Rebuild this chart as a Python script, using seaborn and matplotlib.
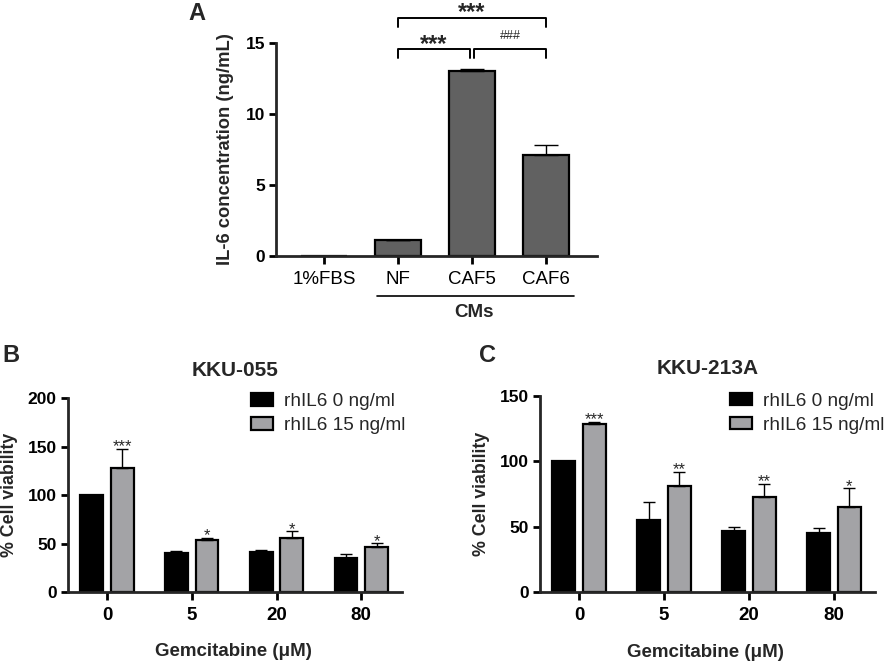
import matplotlib
matplotlib.use("Agg")
import matplotlib.pyplot as plt
import matplotlib.transforms as mtransforms
import numpy as np
import pandas as pd
import seaborn as sns

# Panel A: IL-6 in conditioned media
il6_groups = ["1%FBS", "NF", "CAF5", "CAF6"]
il6_mean = [0.0, 1.1, 13.05, 7.1]
il6_err = [0.0, 0.05, 0.15, 0.7]

# Panels B and C: cell viability
doses = ["0", "5", "20", "80"]
series = ["rhIL6 0 ng/ml", "rhIL6 15 ng/ml"]

kku055_ctrl = [100, 40.2, 41.2, 34.7]
kku055_ctrl_err = [0, 2.4, 1.7, 4.0]
kku055_il6 = [127.5, 53.3, 56.0, 46.7]
kku055_il6_err = [20.0, 2.4, 6.5, 3.5]
kku055_marks = ["***", "*", "*", "*"]

kku213_ctrl = [100, 55.1, 46.7, 45.2]
kku213_ctrl_err = [0, 14.0, 2.8, 3.8]
kku213_il6 = [128.8, 81.1, 72.7, 65.3]
kku213_il6_err = [1.5, 11.0, 10.2, 14.0]
kku213_marks = ["***", "**", "**", "*"]

sns.set_style("ticks")
plt.rcParams["font.family"] = ["Liberation Sans", "DejaVu Sans"]
plt.rcParams["axes.linewidth"] = 2.0
plt.rcParams["xtick.major.width"] = 2.0
plt.rcParams["ytick.major.width"] = 2.0
plt.rcParams["xtick.major.size"] = 5.5
plt.rcParams["ytick.major.size"] = 5.0

fig = plt.figure(figsize=(8.86, 6.62), dpi=100)


def style_axis(ax, ymax, yticks):
    sns.despine(ax=ax)
    ax.set_ylim(0, ymax)
    ax.set_yticks(yticks)
    ax.tick_params(axis="y", labelsize=12.5, pad=3, colors="black")
    ax.tick_params(axis="x", labelsize=13.5, pad=5, colors="black")
    for lab in ax.get_yticklabels():
        lab.set_fontweight("bold")


# ---------------- Panel A ----------------
axA = fig.add_axes([0.3115, 0.6133, 0.3623, 0.3218])
dfA = pd.DataFrame({"group": il6_groups, "conc": il6_mean})
sns.barplot(data=dfA, x="group", y="conc", color="#616161", width=0.63,
            edgecolor="black", linewidth=1.6, errorbar=None, saturation=1, ax=axA)
xa = np.arange(len(il6_groups))
axA.errorbar(xa[1:], il6_mean[1:], yerr=[np.zeros(3), il6_err[1:]], fmt="none",
             ecolor="black", elinewidth=1.0, capsize=8.5, capthick=1.0)
style_axis(axA, 15, [0, 5, 10, 15])
axA.set_xlim(-0.65, 3.69)
axA.set_xlabel("")
axA.set_ylabel("IL-6 concentration (ng/mL)", fontsize=13.2, fontweight="bold")
axA.yaxis.set_label_coords(-0.131, 0.5)
for lab in axA.get_xticklabels():
    lab.set_fontweight("normal")


# significance brackets
def bracket(ax, x1, x2, y, h, text, size, dy, weight="bold"):
    ax.plot([x1, x1, x2, x2], [y - h, y, y, y - h], color="black", lw=1.4,
            clip_on=False)
    ax.text((x1 + x2) / 2, y + dy, text, ha="center", va="baseline",
            fontsize=size, fontweight=weight)


bracket(axA, 1, 1.97, 14.58, 0.64, "***", 17, -0.12)
bracket(axA, 2.03, 3, 14.58, 0.64, "###", 9, 0.7, "normal")
bracket(axA, 1, 3, 16.76, 0.63, "***", 17, -0.08)

trA = mtransforms.blended_transform_factory(axA.transData, axA.transAxes)
axA.plot([0.72, 3.38], [-0.188, -0.188], color="black", lw=1.2,
         transform=trA, clip_on=False)
axA.text(2.03, -0.263, "CMs", transform=trA, ha="center", va="center",
         fontsize=13.5, fontweight="bold")
fig.text(197 / 886, 1 - 14 / 662, "A", ha="center", va="center",
         fontsize=17, fontweight="bold")


# ---------------- Panels B and C ----------------
def viability_panel(rect, title, ctrl, ctrl_err, il6, il6_err, marks,
                    ymax, yticks, ylab_x, mark_off, legend_xy):
    ax = fig.add_axes(rect)
    df = pd.DataFrame({
        "dose": doses * 2,
        "viability": ctrl + il6,
        "group": [series[0]] * 4 + [series[1]] * 4,
    })
    sns.barplot(data=df, x="dose", y="viability", hue="group", order=doses,
                hue_order=series, palette=["black", "#a3a3a6"], width=0.72,
                gap=0.25, edgecolor="black", linewidth=1.6, errorbar=None,
                saturation=1, ax=ax)
    bar_sets = list(ax.containers)
    errs = [ctrl_err, il6_err]
    for k, cont in enumerate(bar_sets):
        xs = np.array([b.get_x() + b.get_width() / 2 for b in cont])
        ys = np.array([b.get_height() for b in cont])
        e = np.array(errs[k])
        keep = e > 0
        ax.errorbar(xs[keep], ys[keep],
                    yerr=[np.zeros(keep.sum()), e[keep]], fmt="none",
                    ecolor="black", elinewidth=1.0, capsize=4.3, capthick=1.0)
        if k == 1:
            for x, y, ee, m in zip(xs, ys, e, marks):
                ax.text(x, y + ee + mark_off, m, ha="center", va="baseline",
                        fontsize=12)
    style_axis(ax, ymax, yticks)
    ax.set_xlim(-0.46, 3.48)
    for lab in ax.get_xticklabels():
        lab.set_fontweight("bold")
    ax.set_ylabel("% Cell viability", fontsize=12.8, fontweight="bold")
    ax.yaxis.set_label_coords(ylab_x, 0.5)
    ax.set_xlabel("Gemcitabine (\u03bcM)", fontsize=13.5, fontweight="bold")
    ax.xaxis.set_label_coords(0.495, -0.265)
    ax.set_title(title, fontsize=15, fontweight="bold", pad=16)
    handles, labels = ax.get_legend_handles_labels()
    ax.legend(handles, labels, loc="upper left", bbox_to_anchor=legend_xy,
              bbox_transform=fig.transFigure, frameon=False, fontsize=13.7,
              handlelength=1.15, handleheight=0.63, handletextpad=0.6,
              labelspacing=0.37, borderpad=0, borderaxespad=0)
    return ax


viability_panel([0.0767, 0.1057, 0.377, 0.293], "KKU-055",
                kku055_ctrl, kku055_ctrl_err, kku055_il6, kku055_il6_err,
                kku055_marks, 200, [0, 50, 100, 150, 200], -0.151, -2.5,
                (0.283, 0.406))
viability_panel([0.6095, 0.1057, 0.378, 0.296], "KKU-213A",
                kku213_ctrl, kku213_ctrl_err, kku213_il6, kku213_il6_err,
                kku213_marks, 150, [0, 50, 100, 150], -0.149, -2.0,
                (0.824, 0.407))

fig.text(11 / 886, 1 - 356 / 662, "B", ha="center", va="center",
         fontsize=17, fontweight="bold")
fig.text(487 / 886, 1 - 356 / 662, "C", ha="center", va="center",
         fontsize=17, fontweight="bold")

fig.savefig("out.png", dpi=100)
